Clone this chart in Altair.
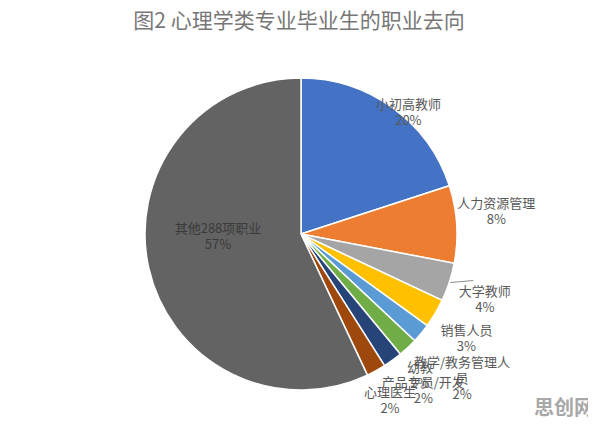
import math
import altair as alt
import pandas as pd

categories = ["小初高教师", "人力资源管理", "大学教师", "销售人员", "教学/教务管理人员",
              "幼教", "产品专员/开发", "心理医生", "其他288项职业"]
values = [20, 8, 4, 3, 2, 2, 2, 2, 57]
display_names = ["小初高教师", "人力资源管理", "大学教师", "销售人员", "教学/教务管理人\n员",
                 "幼教", "产品专员/开发", "心理医生", "其他288项职业"]
colors = ["#4472C4", "#ED7D31", "#A5A5A5", "#FFC000", "#5B9BD5",
          "#70AD47", "#264478", "#9E480E", "#636363"]

# label placement (style): radius in px and angular nudge in value units
label_r = [165, 197, 194, 194, 209, 182, 196, 186, 83]
label_nudge = [1.28, -1.11, 0.17, 0.25, 0.0, 0.67, -0.72, 0.06, 3.69]

df = pd.DataFrame({
    "cat": categories,
    "value": values,
    "idx": list(range(len(categories))),
    "label": [f"{n}\n{v}%" for n, v in zip(display_names, values)],
    "r": label_r,
})
total = sum(values)
cum = df["value"].cumsum()
df["slice_mid"] = cum - df["value"] / 2
df["mid"] = df["slice_mid"] + pd.Series(label_nudge)

cx, cy = 293, 226
R = 156
FONT = "Noto Sans CJK SC"

base = alt.Chart(df)

pie = base.mark_arc(radius=R, stroke="white", strokeWidth=1.5).encode(
    theta=alt.Theta("value:Q", stack=True),
    order=alt.Order("idx:Q"),
    color=alt.Color("cat:N", scale=alt.Scale(domain=categories, range=colors), legend=None),
    x=alt.value(cx), y=alt.value(cy),
)

def label_layer(cond, col):
    return base.transform_filter(cond).mark_text(
        font=FONT, fontSize=13, lineBreak="\n", align="center",
        baseline="middle", lineHeight=16, color=col, dy=-4).encode(
        theta=alt.Theta("mid:Q", stack=False,
                        scale=alt.Scale(domain=[0, total], range=[0, 2 * math.pi])),
        radius=alt.Radius("r:Q", scale=None),
        text="label:N",
        x=alt.value(cx), y=alt.value(cy),
    )

out_labels = label_layer(alt.datum.idx < 8, "#595959")
in_labels = label_layer(alt.datum.idx == 8, "#3a3a3a")

# leader line for the 大学教师 label, from slice edge toward the label
a = df.loc[2, "slice_mid"] / total * 2 * math.pi
lx1 = cx + (R + 1) * math.sin(a)
ly1 = cy - (R + 1) * math.cos(a)
leader = alt.Chart(pd.DataFrame({"k": [0]})).mark_rule(color="#8c8c8c", strokeWidth=1).encode(
    x=alt.value(lx1), y=alt.value(ly1), x2=alt.value(lx1 + 23), y2=alt.value(ly1 - 2),
)

title = alt.Chart(pd.DataFrame({"t": ["图2  心理学类专业毕业生的职业去向"]})).mark_text(
    font=FONT, fontSize=21, color="#777777", align="center", baseline="middle"
).encode(text="t:N", x=alt.value(291), y=alt.value(14))

wm = alt.Chart(pd.DataFrame({"t": ["思创网"]})).mark_text(
    font=FONT, fontSize=20, fontWeight="bold", color="#a8a8a8", align="right", baseline="middle"
).encode(text="t:N", x=alt.value(586), y=alt.value(401))

chart = alt.layer(pie, leader, out_labels, in_labels, title, wm).resolve_scale(
    theta="independent"
).properties(
    width=580, height=414,
    autosize=alt.AutoSizeParams(type="none"),
    padding=0,
).configure(background="white").configure_view(stroke=None)

chart.save("out.html", embed_options={"renderer": "svg", "actions": False})
